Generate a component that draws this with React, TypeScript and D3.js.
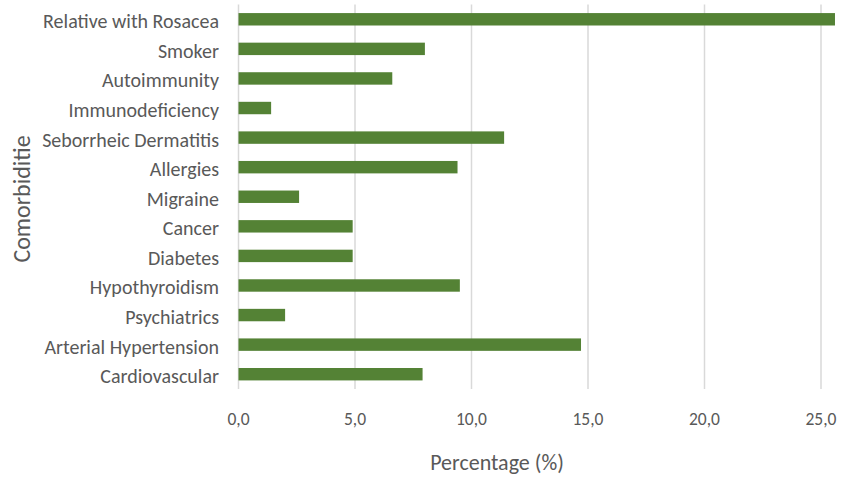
import React from "react";
import * as d3 from "d3";

const categories = [
  "Relative with Rosacea",
  "Smoker",
  "Autoimmunity",
  "Immunodeficiency",
  "Seborrheic Dermatitis",
  "Allergies",
  "Migraine ",
  "Cancer",
  "Diabetes",
  "Hypothyroidism",
  "Psychiatrics",
  "Arterial Hypertension",
  "Cardiovascular",
];
const values = [25.6, 8.0, 6.6, 1.4, 11.4, 9.4, 2.6, 4.9, 4.9, 9.5, 2.0, 14.7, 7.9];
const xTicks = [0, 5, 10, 15, 20, 25];
const xTitle = "Percentage (%)";
const yTitle = "Comorbiditie";

const W = 843;
const H = 477;
const left = 238.5;
const right = 821;
const top = 4.5;
const bottom = 389;
const FONT = "Carlito, Calibri, Lato, 'Open Sans', sans-serif";
const TEXT = "#595959";

export default function App() {
  const x = d3.scaleLinear().domain([0, 25]).range([left, right]);
  const y = d3.scaleBand().domain(categories).range([top, bottom]).paddingInner(0.58).paddingOuter(0.29);
  const fmt = (v: number) => v.toFixed(1).replace(".", ",");
  return (
    <svg width={W} height={H} style={{ position: "absolute", left: 0, top: 0 }} fontFamily={FONT} fontWeight={300}>
      <rect width={W} height={H} fill="#fff" />
      {xTicks.map((t) => (
        <line key={t} x1={x(t)} x2={x(t)} y1={top} y2={bottom} stroke="#d9d9d9" strokeWidth={1.5} />
      ))}
      {categories.map((c, i) => (
        <rect
          key={c}
          x={x(0)}
          y={y(c)!}
          width={x(values[i]) - x(0)}
          height={y.bandwidth()}
          fill="#548235"
        />
      ))}
      {categories.map((c) => (
        <text
          key={c}
          x={219}
          y={y(c)! + y.bandwidth() / 2}
          dy="0.45em"
          textAnchor="end"
          fontSize={20}
          fill={TEXT}
        >
          {c}
        </text>
      ))}
      {xTicks.map((t) => (
        <text key={t} x={x(t)} y={425} textAnchor="middle" fontSize={17.5} fill={TEXT}>
          {fmt(t)}
        </text>
      ))}
      <text x={497} y={470} textAnchor="middle" fontSize={22} fill={TEXT}>
        {xTitle}
      </text>
      <text transform={`translate(30,199) rotate(-90)`} textAnchor="middle" fontSize={24} fill={TEXT}>
        {yTitle}
      </text>
    </svg>
  );
}
